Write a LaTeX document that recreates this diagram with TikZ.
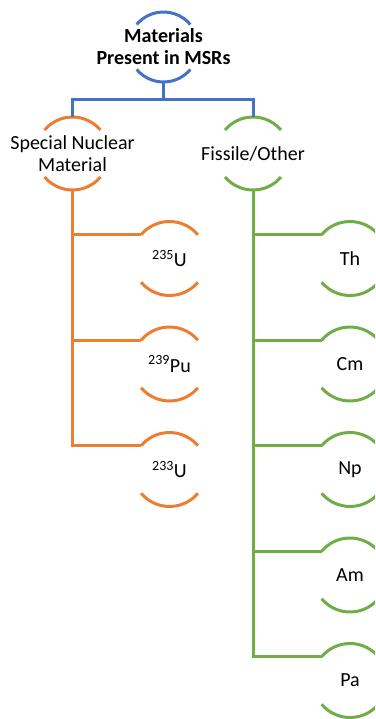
\documentclass[tikz,border=0pt]{standalone}
\usepackage{fontspec}
\setmainfont{Carlito}
\definecolor{cblue}{HTML}{4472C4}
\definecolor{corange}{HTML}{ED7D31}
\definecolor{cgreen}{HTML}{70AD47}
\newcommand\ringfont{\fontsize{20}{22}\selectfont}
\newcommand\ringarcs[3]{%
  \draw[#3] (#1.40) arc[start angle=40,end angle=140,radius=#2];
  \draw[#3] (#1.220) arc[start angle=220,end angle=320,radius=#2];}
\tikzset{
  ring/.style={circle, minimum size=#1, inner sep=0pt, outer sep=0pt},
  txt/.style={label={[align=center,font=\ringfont,text=black]center:#1}},
  wire/.style={line width=3pt},
}
\begin{document}
\begin{tikzpicture}[x=1pt,y=1pt]
\useasboundingbox (0,0) rectangle (375,-719);
\clip (0,0) rectangle (375,-719);
% top
\node[ring=70pt, txt={\bfseries Materials\\\bfseries Present in MSRs}] (top) at (163.5,-47) {};
\ringarcs{top}{35pt}{wire,cblue}
% level 1
\node[ring=73pt, txt={Special Nuclear\\Material}] (snm) at (72.5,-153.5) {};
\node[ring=73pt, txt={Fissile/Other}] (fis) at (253,-153.5) {};
\ringarcs{snm}{36.5pt}{wire,corange}
\ringarcs{fis}{36.5pt}{wire,cgreen}
\draw[wire,cblue] (top.south) -- ++(0,-18) coordinate (split) -| (snm.north);
\draw[wire,cblue] (split) -| (fis.north);
% orange children
\node[ring=74pt, txt={\textsuperscript{235}U}] (u235) at (169.5,-258.5) {};
\node[ring=74pt, txt={\textsuperscript{239}Pu}] (pu239) at (169.5,-364) {};
\node[ring=74pt, txt={\textsuperscript{233}U}] (u233) at (169.5,-469.5) {};
\foreach \n in {u235,pu239,u233}{
  \ringarcs{\n}{37pt}{wire,corange}
  \draw[wire,corange] (snm.south) |- (\n.140);
}
% green children
\node[ring=74pt, txt={Th}] (th) at (350,-258.5) {};
\node[ring=74pt, txt={Cm}] (cm) at (350,-364) {};
\node[ring=74pt, txt={Np}] (np) at (350,-469.5) {};
\node[ring=74pt, txt={Am}] (am) at (350,-575) {};
\node[ring=74pt, txt={Pa}] (pa) at (350,-680.5) {};
\foreach \n in {th,cm,np,am,pa}{
  \ringarcs{\n}{37pt}{wire,cgreen}
  \draw[wire,cgreen] (fis.south) |- (\n.140);
}
\end{tikzpicture}
\end{document}
